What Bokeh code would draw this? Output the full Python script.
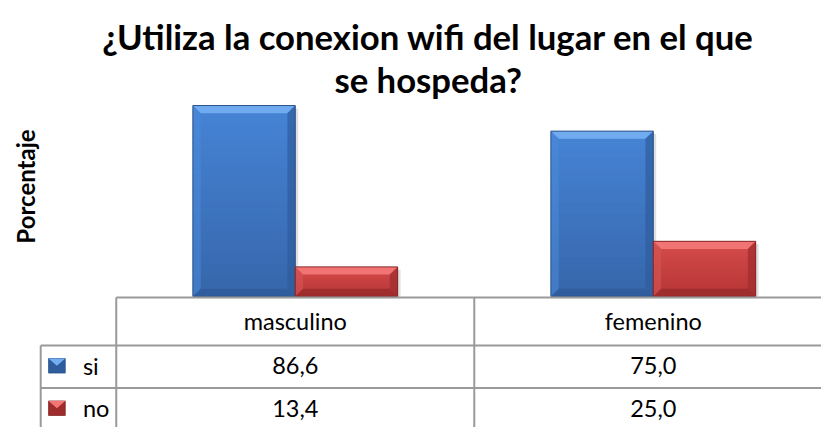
import numpy as np
from bokeh.plotting import figure
from bokeh.models import Range1d, Label
from bokeh.core.properties import value
from bokeh.embed import file_html
from bokeh.resources import INLINE

# ---------------- data ----------------
title_lines = ["¿Utiliza la conexion wifi del lugar en el que", "se hospeda?"]
y_label = "Porcentaje"
categories = ["masculino", "femenino"]
series_names = ["si", "no"]
si_values = [86.6, 75.0]
no_values = [13.4, 25.0]

# ---------------- layout (reference pixels, 837x443 canvas) ----------------
W, H = 821, 427
REF_W, REF_H = 837, 443
CAT_PX = 365            # width of one category column in px
CAT0_LEFT = 118         # x of category 0 left edge (reference px)
BASE_Y = 307            # y of value 0 (reference px)
PX_PER_PCT = 2.2864     # px per percent

def dx(px):
    return (px - CAT0_LEFT) / CAT_PX

def dy(py):
    return (BASE_Y - py) / PX_PER_PCT

FONT = "Lato"

p = figure(width=W, height=H, output_backend="svg", toolbar_location=None,
           x_axis_type=None, y_axis_type=None,
           x_range=Range1d(dx(0), dx(REF_W)),
           y_range=Range1d(dy(REF_H), dy(0)),
           min_border=0, min_border_left=0, min_border_right=0,
           min_border_top=0, min_border_bottom=0,
           background_fill_color="white", border_fill_color="white")
p.outline_line_color = None
p.xgrid.visible = False
p.ygrid.visible = False

# ---------------- bars ----------------
series = [
    dict(name="si", vals=si_values, off=-0.143,
         top_c=(0x46, 0x84, 0xD6), bot_c=(0x36, 0x66, 0xAA),
         bevel_top="#74ADF0", bevel_left="#4B8AD8", bevel_right="#2F5C9C",
         bevel_bot="#2D5A98", edge="#2A528A"),
    dict(name="no", vals=no_values, off=0.143,
         top_c=(0xD6, 0x4C, 0x4C), bot_c=(0xB6, 0x35, 0x35),
         bevel_top="#F27676", bevel_left="#D65858", bevel_right="#9E2C2C",
         bevel_bot="#962A2A", edge="#872424"),
]
BW = 0.286
bx = 8 / CAT_PX
by = 8 / PX_PER_PCT
N = 30

for s in series:
    for i, v in enumerate(s["vals"]):
        c = i + 0.5 + s["off"]
        x0, x1 = c - BW / 2, c + BW / 2
        # soft shadow
        p.quad(left=[x0 + 3 / CAT_PX], right=[x1 + 3 / CAT_PX], bottom=[0 - 2 / PX_PER_PCT],
               top=[v - 3 / PX_PER_PCT], fill_color="#000000", fill_alpha=0.12, line_color=None)
        # gradient face
        edges = np.linspace(0, v, N + 1)
        t = (edges[:-1] + edges[1:]) / 2 / v
        cols = []
        for tt in t:
            r = [int(round(s["bot_c"][k] + (s["top_c"][k] - s["bot_c"][k]) * tt)) for k in range(3)]
            cols.append("#%02x%02x%02x" % tuple(r))
        overlap = 1.2 / PX_PER_PCT
        tops = [min(e + overlap, v) for e in edges[1:]]
        p.quad(left=[x0] * N, right=[x1] * N, bottom=list(edges[:-1]), top=tops,
               fill_color=cols, line_color=None)
        # bevels
        xs = [
            [x0, x1, x1 - bx, x0 + bx],          # top
            [x0, x0 + bx, x0 + bx, x0],          # left
            [x1, x1 - bx, x1 - bx, x1],          # right
            [x0, x0 + bx, x1 - bx, x1],          # bottom
        ]
        ys = [
            [v, v, v - by, v - by],
            [v, v - by, by, 0],
            [v, v - by, by, 0],
            [0, by, by, 0],
        ]
        p.patches(xs, ys, fill_color=[s["bevel_top"], s["bevel_left"], s["bevel_right"], s["bevel_bot"]],
                  fill_alpha=[0.95, 0.55, 0.7, 0.7], line_color=None)
        p.quad(left=[x0], right=[x1], bottom=[0], top=[v], fill_color=None,
               line_color=s["edge"], line_width=1)

# ---------------- data table ----------------
GRID = "#9A9A9A"
LW = 2
col_x = [dx(41), 0, 1, 2]
row_top = dy(308)
row1 = dy(358)
row2 = dy(402)
row_bot = dy(450)

seg_x0, seg_y0, seg_x1, seg_y1 = [], [], [], []
seg_x0 += [0]; seg_y0 += [row_top]; seg_x1 += [2]; seg_y1 += [row_top]
for ry in (row1, row2):
    seg_x0 += [col_x[0]]; seg_y0 += [ry]; seg_x1 += [2]; seg_y1 += [ry]
for cx in (0, 1, 2):
    seg_x0 += [cx]; seg_y0 += [row_top]; seg_x1 += [cx]; seg_y1 += [row_bot]
seg_x0 += [col_x[0]]; seg_y0 += [row1]; seg_x1 += [col_x[0]]; seg_y1 += [row_bot]
p.segment(x0=seg_x0, y0=seg_y0, x1=seg_x1, y1=seg_y1, line_color=GRID, line_width=LW)

TFS = "23.5px"
cat_x = [i + 0.5 for i in range(len(categories))]
p.text(x=cat_x, y=[dy(333)] * len(categories), text=categories,
       text_align="center", text_baseline="middle", text_color="#000000",
       text_font=value(FONT), text_font_size=TFS)

row_centers = [dy(379), dy(423)]
for s, rc in zip(series, row_centers):
    labels = [("%.1f" % v).replace(".", ",") for v in s["vals"]]
    p.text(x=cat_x, y=[rc] * len(labels), text=labels,
           text_align="center", text_baseline="middle", text_color="#000000",
           text_font=value(FONT), text_font_size=TFS)
    kx0, kx1 = dx(49), dx(66)
    kt, kb = rc + 7.5 / PX_PER_PCT, rc - 7.5 / PX_PER_PCT
    km = (kx0 + kx1) / 2
    p.quad(left=[kx0], right=[kx1], top=[kt], bottom=[kb],
           fill_color=s["bevel_right"], line_color=s["edge"], line_width=0.8)
    p.patches([[kx0, kx1, km]], [[kt, kt, rc]], fill_color=[s["bevel_top"]], line_color=None)
    p.text(x=[dx(84)], y=[rc], text=[s["name"]], text_align="left", text_baseline="middle",
           text_color="#000000", text_font=value(FONT), text_font_size=TFS)

# ---------------- titles ----------------
for line, base in zip(title_lines, (37, 82)):
    p.add_layout(Label(x=dx(436), y=dy(base), text=line, text_align="center",
                       text_baseline="alphabetic", text_font=FONT, text_font_style="bold",
                       text_font_size="34.7px", text_color="#000000"))
p.add_layout(Label(x=dx(25), y=dy(193), text=y_label, text_align="center",
                   text_baseline="middle", angle=np.pi / 2, text_font=FONT,
                   text_font_style="bold", text_font_size="24px", text_color="#000000"))

open("out.html", "w").write(file_html(p, INLINE))
